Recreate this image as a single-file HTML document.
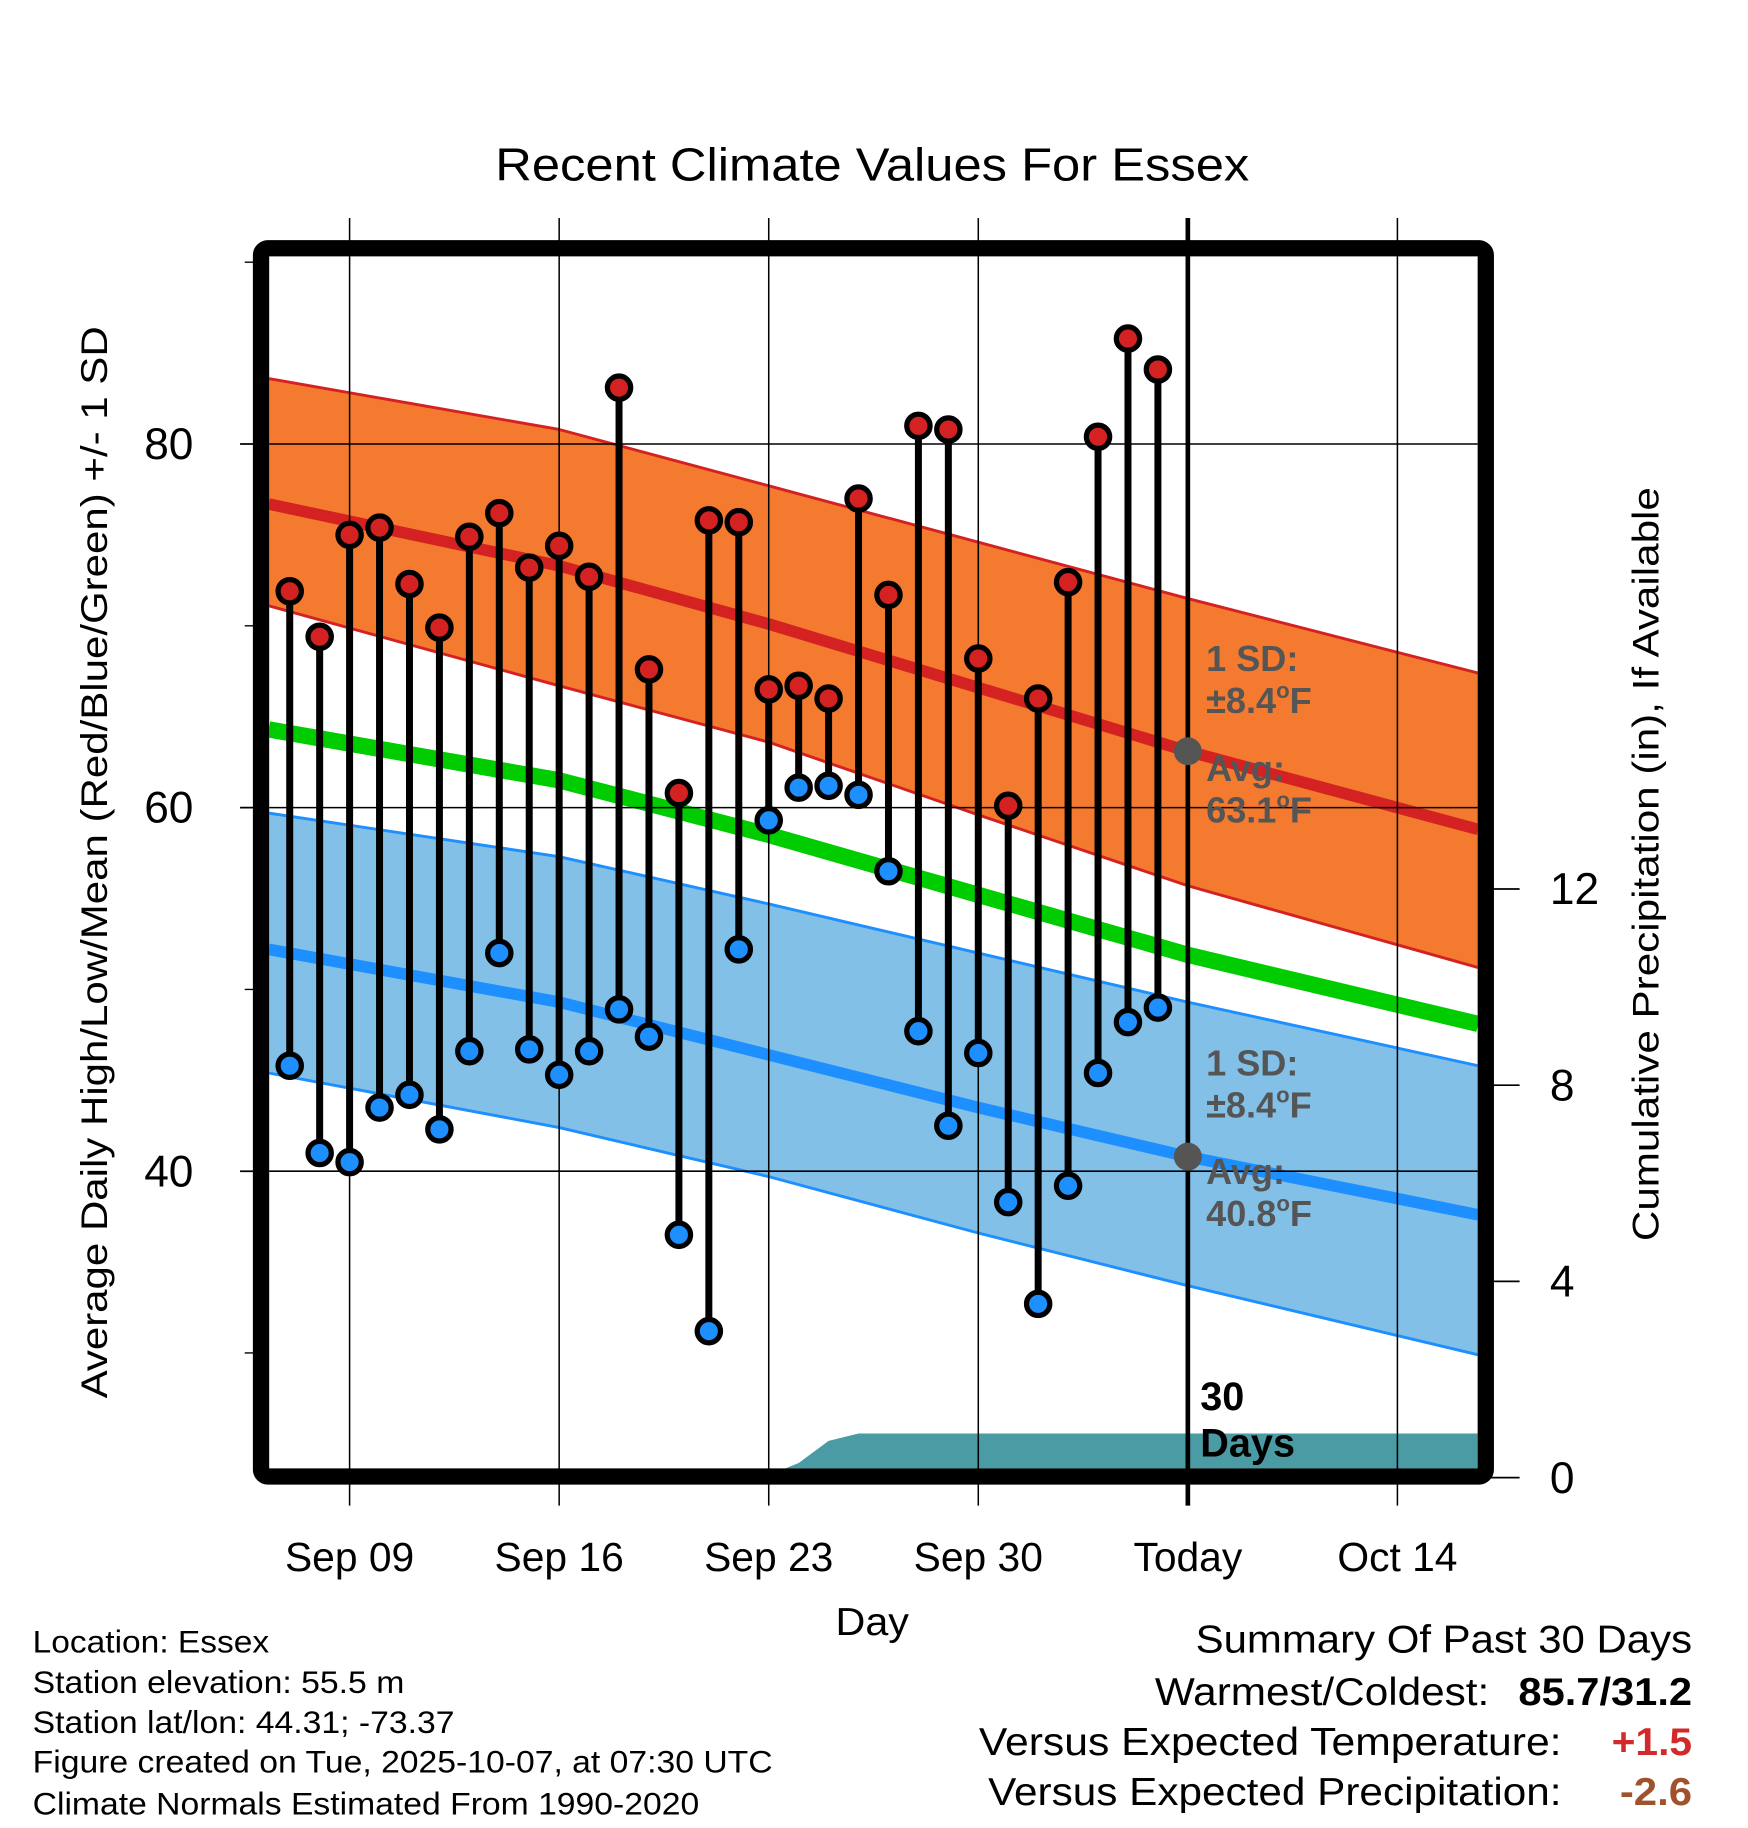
<!DOCTYPE html>
<html><head><meta charset="utf-8"><style>
html,body{margin:0;padding:0;background:#fff}
svg{display:block;font-family:"Liberation Sans",sans-serif}
</style></head><body>
<svg id="chart" width="1748" height="1828" viewBox="0 0 1500 1568.6" xmlns="http://www.w3.org/2000/svg">
<text x="425" y="155" font-size="40" textLength="647" lengthAdjust="spacingAndGlyphs">Recent Climate Values For Essex</text>
<defs><clipPath id="plotclip"><rect x="231" y="220" width="1037" height="1040"/></clipPath></defs>
<g id="bands" clip-path="url(#plotclip)"></g>
<g id="grid"></g>
<g id="marks"></g>
<rect x="224" y="213" width="1051" height="1054" rx="6" fill="none" stroke="#000" stroke-width="14"/>
<g id="axes"></g>
<text transform="translate(92,1200) rotate(-90)" font-size="32" textLength="920" lengthAdjust="spacingAndGlyphs">Average Daily High/Low/Mean (Red/Blue/Green) +/- 1 SD</text>
<text transform="translate(1423,1065) rotate(-90)" font-size="32" textLength="647" lengthAdjust="spacingAndGlyphs">Cumulative Precipitation (in), If Available</text>
<text x="717" y="1403" font-size="33" textLength="63" lengthAdjust="spacingAndGlyphs">Day</text>
<g font-size="27">
<text x="28" y="1418" textLength="203" lengthAdjust="spacingAndGlyphs">Location: Essex</text>
<text x="28" y="1453" textLength="319" lengthAdjust="spacingAndGlyphs">Station elevation: 55.5 m</text>
<text x="28" y="1487" textLength="362" lengthAdjust="spacingAndGlyphs">Station lat/lon: 44.31; -73.37</text>
<text x="28" y="1521" textLength="635" lengthAdjust="spacingAndGlyphs">Figure created on Tue, 2025-10-07, at 07:30 UTC</text>
<text x="28" y="1557" textLength="572" lengthAdjust="spacingAndGlyphs">Climate Normals Estimated From 1990-2020</text>
</g>
<g font-size="33">
<text x="1026" y="1418" textLength="426" lengthAdjust="spacingAndGlyphs">Summary Of Past 30 Days</text>
<text x="991" y="1463" textLength="287" lengthAdjust="spacingAndGlyphs">Warmest/Coldest:</text>
<text x="1303" y="1463" font-weight="bold" textLength="149" lengthAdjust="spacingAndGlyphs">85.7/31.2</text>
<text x="840" y="1506" textLength="500" lengthAdjust="spacingAndGlyphs">Versus Expected Temperature:</text>
<text x="1383" y="1506" font-weight="bold" fill="#d22a2a" textLength="69" lengthAdjust="spacingAndGlyphs">+1.5</text>
<text x="848" y="1549" textLength="492" lengthAdjust="spacingAndGlyphs">Versus Expected Precipitation:</text>
<text x="1390" y="1549" font-weight="bold" fill="#a0522d" textLength="62" lengthAdjust="spacingAndGlyphs">-2.6</text>
</g>
</svg>
<script>
// day numbers: Sep 1 = 1
const days = [7,8,9,10,11,12,13,14,15,16,17,18,19,20,21,22,23,24,25,26,27,28,29,30,31,32,33,34,35,36];
const highs = [71.9,69.4,75.0,75.4,72.3,69.9,74.9,76.2,73.2,74.4,72.7,83.1,67.6,60.8,75.8,75.7,66.5,66.7,66.0,77.0,71.7,81.0,80.8,68.2,60.1,66.0,72.4,80.4,85.8,84.1];
const lows = [45.8,41.0,40.5,43.5,44.2,42.3,46.6,52.0,46.7,45.3,46.6,48.9,47.4,36.5,31.2,52.2,59.3,61.1,61.2,60.7,56.5,47.7,42.5,46.5,38.3,32.7,39.2,45.4,48.2,49.0];
const normDays = [6.3,16,23,30,37,46.7];
const highUpper = [83.6,80.8,77.7,74.6,71.5,67.4];
const highAvg = [76.7,73.3,70.1,66.6,63.1,58.8];
const highLower = [71.1,66.7,63.6,59.6,55.7,51.2];
const meanAvg = [64.3,61.5,58.5,55.2,51.9,48.1];
const lowUpper = [59.7,57.3,54.7,52.0,49.3,45.8];
const lowAvg = [52.2,49.3,46.4,43.5,40.8,37.6];
const lowLower = [45.4,42.4,39.7,36.6,33.7,29.9];
const precipDays = [6.3,22,23,24,25,26,27,46.7];
const precipVals = [0,0,0.05,0.3,0.75,0.9,0.9,0.9];
const xTickDays = [9,16,23,30,37,44];
const xTickLabels = ["Sep 09","Sep 16","Sep 23","Sep 30","Today","Oct 14"];
const yTicks = [40,60,80];
const yMinor = [30,50,70,90];
const y2Ticks = [0,4,8,12];

const NS="http://www.w3.org/2000/svg";
const X=d=>300+(d-9)*25.69;
const Y=t=>693-(t-60)*15.6;
const Y2=p=>1268-p*42.1;
function mk(parent,tag,attrs){const e=document.createElementNS(NS,tag);for(const k in attrs)e.setAttribute(k,attrs[k]);parent.appendChild(e);return e;}
const bands=document.getElementById('bands'),grid=document.getElementById('grid'),marks=document.getElementById('marks'),axes=document.getElementById('axes');
function pts(xs,ys){return xs.map((d,i)=>X(d)+','+Y(ys[i])).join(' ');}
function band(up,lo,fill,name){
  const p=pts(normDays,up)+' '+normDays.slice().reverse().map((d,i)=>X(d)+','+Y(lo[lo.length-1-i])).join(' ');
  const e=mk(bands,'polygon',{points:p,fill:fill,stroke:'none'});
  
  
}
function line(arr,color,w,name){
  const e=mk(bands,'polyline',{points:pts(normDays,arr),fill:'none',stroke:color,'stroke-width':w,'stroke-linejoin':'round'});
  
  
}
band(highUpper,highLower,'#f47a30','high-sd-band');
band(lowUpper,lowLower,'#82c0e8','low-sd-band');
line(highUpper,'#d42222',2.5,'high-upper-edge');
line(highLower,'#d42222',2.5,'high-lower-edge');
line(lowUpper,'#1e8fff',2.5,'low-upper-edge');
line(lowLower,'#1e8fff',2.5,'low-lower-edge');
line(meanAvg,'#00cc00',14,'mean-normal-line');
line(highAvg,'#d42222',10,'high-normal-line');
line(lowAvg,'#1e8fff',10,'low-normal-line');
// precip
{
  let p=precipDays.map((d,i)=>X(d)+','+Y2(precipVals[i])).join(' ');
  p+=' '+X(precipDays[precipDays.length-1])+',1270 '+X(precipDays[0])+',1270';
  const e=mk(bands,'polygon',{points:p,fill:'#4a9ba3','stroke-linejoin':'round'});
  
  
}
// grid
yTicks.forEach(t=>{
  const e=mk(grid,'line',{x1:231,x2:1268,y1:Y(t),y2:Y(t),stroke:'#000','stroke-width':1.3});
  
  
  const tk=mk(axes,'line',{x1:206,x2:224,y1:Y(t),y2:Y(t),stroke:'#000','stroke-width':1.5});
  
  
  const tx=mk(axes,'text',{x:166,y:Y(t)+13,'font-size':38,'text-anchor':'end'});
  tx.textContent=t;
  
  
});
yMinor.forEach(t=>{
  const tk=mk(axes,'line',{x1:210,x2:224,y1:Y(t),y2:Y(t),stroke:'#000','stroke-width':1.2});
  
  
});
y2Ticks.forEach(p=>{
  const tk=mk(axes,'line',{x1:1275,x2:1304,y1:Y2(p),y2:Y2(p),stroke:'#000','stroke-width':1.5});
  
  
  const tx=mk(axes,'text',{x:1330,y:Y2(p)+13,'font-size':38});
  tx.textContent=p;
  
  
});
xTickDays.forEach((d,i)=>{
  const isToday=xTickLabels[i]==='Today';
  const e=mk(grid,'line',{x1:X(d),x2:X(d),y1:187,y2:1292,stroke:'#000','stroke-width':isToday?4:1.3});
  
  
  const tx=mk(axes,'text',{x:X(d),y:1348,'font-size':35,'text-anchor':'middle'});
  tx.textContent=xTickLabels[i];
  
  
});
// stems and dots
days.forEach((d,i)=>{
  const s=mk(marks,'line',{x1:X(d),x2:X(d),y1:Y(highs[i]),y2:Y(lows[i]),stroke:'#000','stroke-width':6});
  
  
});
days.forEach((d,i)=>{
  const h=mk(marks,'circle',{cx:X(d),cy:Y(highs[i]),r:10,fill:'#d42222',stroke:'#000','stroke-width':4.5});
  
  
  const l=mk(marks,'circle',{cx:X(d),cy:Y(lows[i]),r:10,fill:'#1e8fff',stroke:'#000','stroke-width':4.5});
  
  
});
// annotations
function ann(y,lines,name){
  lines.forEach((t,k)=>{
    const e=mk(marks,'text',{x:1035,y:y+k*36,'font-size':31,'font-weight':'bold',fill:'#555'});
    e.innerHTML=t;
    
    
  });
}
const deg='<tspan font-size="19" dy="-13">o</tspan><tspan dy="13">F</tspan>';
ann(576,['1 SD:','±8.4'+deg],'high-sd-label');
ann(670,['Avg:','63.1'+deg],'high-avg-label');
ann(923,['1 SD:','±8.4'+deg],'low-sd-label');
ann(1016,['Avg:','40.8'+deg],'low-avg-label');
[[63.1,'today-high-normal-dot'],[40.8,'today-low-normal-dot']].forEach(([t,n])=>{
  const c=mk(marks,'circle',{cx:X(37),cy:Y(t),r:12,fill:'#555'});
  
  
});
['30','Days'].forEach((t,k)=>{
  const e=mk(marks,'text',{x:1030,y:1210+k*40,'font-size':34,'font-weight':'bold'});
  e.textContent=t;
  
  
});
</script>
</body></html>
